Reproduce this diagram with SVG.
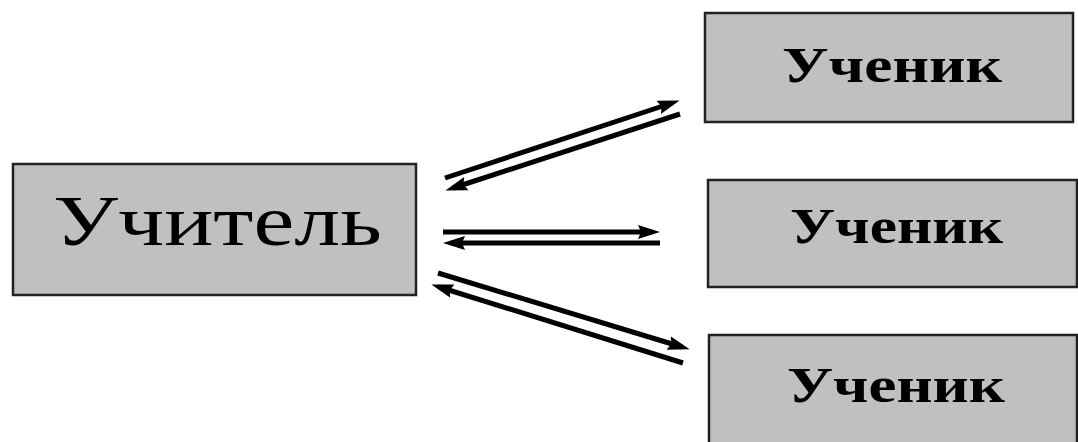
<svg xmlns="http://www.w3.org/2000/svg" width="1078" height="442" viewBox="0 0 1078 442">
<style>
.box{fill:#c0c0c0;stroke:#222;stroke-width:2.5}
.t{font-family:"Liberation Serif","Times New Roman",serif;fill:#000}
.big{font-size:72px}
.sm{font-size:50px;font-weight:bold}
.c{stroke:#000;stroke-width:5;fill:none;marker-end:url(#ah)}
</style>
<defs>
<marker id="ah" markerUnits="userSpaceOnUse" markerWidth="24" markerHeight="18" refX="14" refY="9" orient="auto">
<path d="M0,2 L22,9 L0,16 L3,9 Z" fill="#000"/>
</marker>
</defs>
<rect width="1078" height="442" fill="#fff"/>
<g id="teacher">
<rect class="box" x="13" y="164" width="403" height="131"/>
<text class="t big" x="53" y="245" textLength="329" lengthAdjust="spacingAndGlyphs">Учитель</text>
</g>
<g id="student1">
<rect class="box" x="705" y="13" width="368" height="109"/>
<text class="t sm" x="782" y="82" textLength="220" lengthAdjust="spacingAndGlyphs">Ученик</text>
</g>
<g id="student2">
<rect class="box" x="708" y="180" width="369" height="107"/>
<text class="t sm" x="790" y="243" textLength="213" lengthAdjust="spacingAndGlyphs">Ученик</text>
</g>
<g id="student3">
<rect class="box" x="709" y="335" width="368" height="120"/>
<text class="t sm" x="787" y="402" textLength="218" lengthAdjust="spacingAndGlyphs">Ученик</text>
</g>
<g id="connectors">
<line class="c" x1="445" y1="178" x2="672" y2="103"/>
<line class="c" x1="680" y1="114" x2="453" y2="188"/>
<line class="c" x1="443" y1="232" x2="652" y2="232"/>
<line class="c" x1="660" y1="243" x2="451" y2="243"/>
<line class="c" x1="438" y1="273" x2="682" y2="347"/>
<line class="c" x1="683" y1="363" x2="439" y2="287"/>
</g>
</svg>
